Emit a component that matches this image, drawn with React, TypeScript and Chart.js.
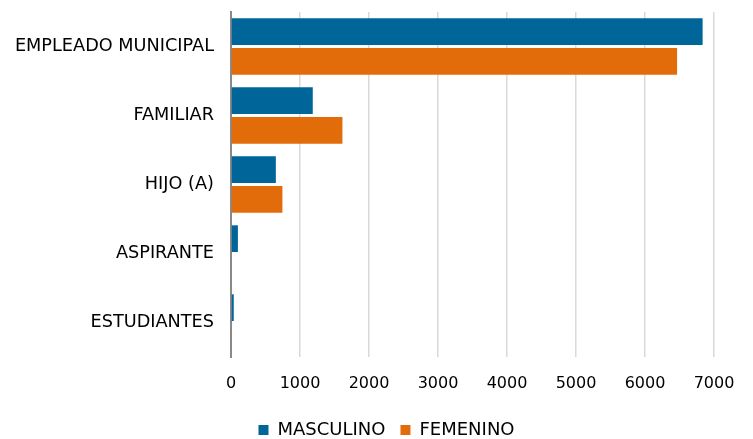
import React, { useEffect, useRef } from "react";
import { Chart, registerables } from "chart.js";

Chart.register(...registerables);

const categories = ["EMPLEADO MUNICIPAL", "FAMILIAR", "HIJO (A)", "ASPIRANTE", "ESTUDIANTES"];
const masculino = [6835, 1185, 650, 100, 40];
const femenino = [6465, 1615, 745, 0, 0];
const seriesNames = ["MASCULINO", "FEMENINO"];
const xTicks = [0, 1000, 2000, 3000, 4000, 5000, 6000, 7000];

const FONT = "'DejaVu Sans', sans-serif";

const legendShift = {
  id: "legendShift",
  afterLayout(chart: any) {
    const lg = chart.legend;
    if (lg) {
      lg.left += 10;
      lg.right += 10;
    }
  },
};

export default function App() {
  const ref = useRef<HTMLCanvasElement>(null);
  useEffect(() => {
    if (!ref.current) return;
    const chart = new Chart(ref.current, {
      type: "bar",
      plugins: [legendShift],
      data: {
        labels: categories,
        datasets: [
          {
            label: seriesNames[0],
            data: masculino,
            backgroundColor: "#00669A",
            barPercentage: 0.9,
            categoryPercentage: 0.86,
          },
          {
            label: seriesNames[1],
            data: femenino,
            backgroundColor: "#E36C0A",
            barPercentage: 0.9,
            categoryPercentage: 0.86,
          },
        ],
      },
      options: {
        indexAxis: "y",
        animation: false,
        responsive: false,
        maintainAspectRatio: false,
        layout: { padding: { top: 12, right: 0, left: 0, bottom: -10 } },
        plugins: {
          tooltip: { enabled: false },
          legend: {
            position: "bottom",
            labels: {
              boxWidth: 10,
              boxHeight: 10,
              padding: 15,
              color: "#000",
              font: { family: FONT, size: 18 },
            },
          },
        },
        scales: {
          x: {
            min: 0,
            max: 7000,
            afterBuildTicks: (scale: any) => {
              scale.ticks = xTicks.map((v) => ({ value: v }));
            },
            afterFit: (scale: any) => {
              scale.height = 49;
              scale.paddingRight = 39;
            },
            grid: { color: "#D9D9D9", lineWidth: 1.5, drawTicks: false },
            border: { display: false },
            ticks: {
              color: "#000",
              padding: 17,
              font: { family: FONT, size: 16 },
              callback: (v: any) => String(v),
            },
          },
          y: {
            grid: { display: false, drawTicks: false },
            border: { display: true, color: "#898989", width: 2 },
            afterFit: (scale: any) => {
              scale.width = 231;
              scale.paddingTop = 0;
              scale.paddingBottom = 0;
            },
            ticks: {
              color: "#000",
              padding: 17,
              font: { family: FONT, size: 17.7 },
            },
          },
        },
      },
    });
    return () => chart.destroy();
  }, []);
  return (
    <div style={{ position: "fixed", left: 0, top: 0, width: 753, height: 439, background: "#fff" }}>
      <canvas ref={ref} width={753} height={439} style={{ width: 753, height: 439 }} />
    </div>
  );
}
